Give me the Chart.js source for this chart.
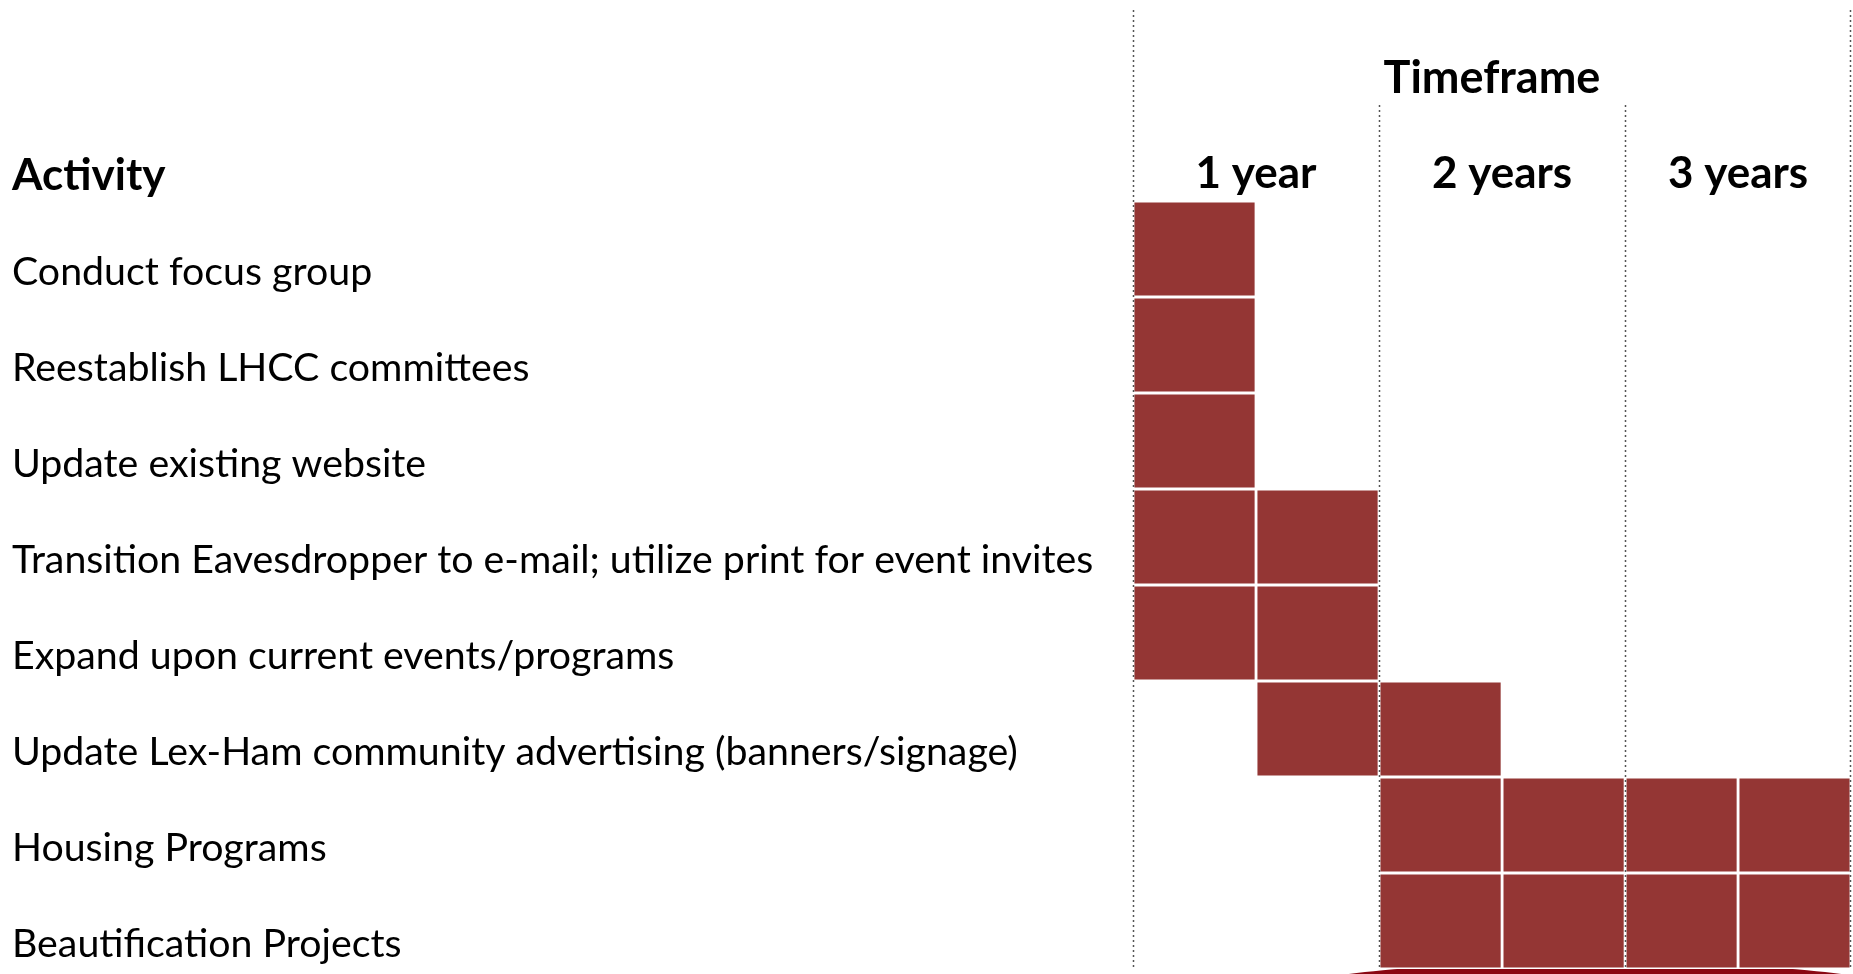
<!DOCTYPE html>
<html>
<head>
<meta charset="utf-8">
<script src="https://cdn.jsdelivr.net/npm/chart.js@4/dist/chart.umd.min.js"></script>
<style>
  html, body { margin: 0; padding: 0; background: #ffffff; }
  canvas { display: block; }
</style>
</head>
<body>
<canvas id="c" width="1853" height="974"></canvas>
<script>
// ---- data ----
const activities = [
  "Conduct focus group",
  "Reestablish LHCC committees",
  "Update existing website",
  "Transition Eavesdropper to e-mail; utilize print for event invites",
  "Expand upon current events/programs",
  "Update Lex-Ham community advertising (banners/signage)",
  "Housing Programs",
  "Beautification Projects"
];
// timeframe in half-year units (0 = start, 6 = end of year 3)
const startHalf = [0, 0, 0, 0, 0, 1, 2, 2];
const endHalf   = [1, 1, 1, 2, 2, 3, 6, 6];
const yearLabels = ["1 year", "2 years", "3 years"];
const yearCenters = [1, 3, 5];
const yearBounds = [0, 2, 4, 6];
const headerActivity = "Activity";
const headerTimeframe = "Timeframe";

// ---- a linear scale whose year columns can have different drawn widths (table layout) ----
class ColumnScale extends Chart.LinearScale {
  _dec(v) {
    const w = this.options.columnWeights, span = this.options.columnSpan;
    const total = w.reduce((a, b) => a + b, 0);
    let k = Math.min(Math.floor((v - this.min) / span), w.length - 1);
    k = Math.max(k, 0);
    let cum = 0;
    for (let i = 0; i < k; i++) cum += w[i];
    cum += ((v - this.min - k * span) / span) * w[k];
    return cum / total;
  }
  getPixelForValue(v) {
    if (v === null || v === undefined) return NaN;
    return this.getPixelForDecimal(this._dec(v));
  }
  getValueForPixel(px) {
    const d = this.getDecimalForPixel(px);
    const w = this.options.columnWeights, span = this.options.columnSpan;
    const total = w.reduce((a, b) => a + b, 0);
    let acc = 0;
    for (let i = 0; i < w.length; i++) {
      const f = w[i] / total;
      if (d <= acc + f || i === w.length - 1) return this.min + i * span + ((d - acc) / f) * span;
      acc += f;
    }
    return this.max;
  }
}
ColumnScale.id = "column";
ColumnScale.defaults = { columnWeights: [1], columnSpan: 1 };
Chart.register(ColumnScale);

// ---- build one dataset per half-year cell ----
const BAR = "#943634";
const datasets = [];
for (let h = 0; h < 6; h++) {
  datasets.push({
    data: activities.map((_, i) => (startHalf[i] <= h && h < endHalf[i]) ? [h, h + 1] : null),
    backgroundColor: BAR,
    borderColor: "#ffffff",
    borderWidth: 1.75,
    borderSkipped: false,
    grouped: false,
    barPercentage: 1,
    categoryPercentage: 1
  });
}

const FONT = "Lato";

const decor = {
  id: "decor",
  beforeDatasetsDraw(chart) {
    const ctx = chart.ctx;
    ctx.save();
    ctx.fillStyle = "#8a0712";
    ctx.beginPath();
    ctx.ellipse(1595, 990, 300, 28, 0, 0, Math.PI * 2);
    ctx.fill();
    ctx.restore();
  },
  afterDatasetsDraw(chart) {
    const ctx = chart.ctx;
    const x = chart.scales.x;
    const area = chart.chartArea;
    ctx.save();
    ctx.strokeStyle = "#555555";
    ctx.lineWidth = 1.5;
    ctx.setLineDash([2, 3]);
    yearBounds.forEach((v, k) => {
      const px = Math.round(x.getPixelForValue(v)) + (k === yearBounds.length - 1 ? -1 : 0);
      const top = (k === 0 || k === yearBounds.length - 1) ? 10 : 105;
      ctx.beginPath();
      ctx.moveTo(px + 0.5, top);
      ctx.lineTo(px + 0.5, area.bottom);
      ctx.stroke();
    });
    ctx.setLineDash([]);
    ctx.fillStyle = "#000";
    ctx.font = "bold 44px " + FONT;
    ctx.textAlign = "left";
    ctx.textBaseline = "alphabetic";
    ctx.fillText(headerActivity, 12, 190);
    ctx.restore();
  }
};

new Chart(document.getElementById("c"), {
  type: "bar",
  data: { labels: activities, datasets },
  plugins: [decor],
  options: {
    indexAxis: "y",
    responsive: false,
    devicePixelRatio: 1,
    animation: false,
    layout: { padding: { left: 12, right: 2, top: 0, bottom: 5 } },
    plugins: { legend: { display: false }, tooltip: { enabled: false }, title: { display: false } },
    scales: {
      x: {
        type: "column",
        position: "top",
        min: 0,
        max: 6,
        columnSpan: 2,
        columnWeights: [1, 1, 0.918],
        afterFit(scale) { scale.height = 201; scale.paddingLeft = 0; scale.paddingRight = 0; },
        afterBuildTicks(scale) { scale.ticks = yearCenters.map(v => ({ value: v })); },
        grid: { display: false, drawTicks: false },
        border: { display: false },
        ticks: {
          autoSkip: false,
          maxRotation: 0,
          padding: 1,
          color: "#000",
          font: { family: FONT, size: 44, weight: "bold" },
          callback(v) { const k = yearCenters.indexOf(v); return k >= 0 ? yearLabels[k] : ""; }
        },
        title: {
          display: true,
          text: headerTimeframe,
          color: "#000",
          font: { family: FONT, size: 45, weight: "bold" },
          padding: { top: 51, bottom: 0 }
        }
      },
      y: {
        type: "category",
        position: "left",
        afterFit(scale) { scale.width = 1121; scale.paddingTop = 0; scale.paddingBottom = 0; },
        grid: { display: false, drawTicks: false },
        border: { display: false },
        ticks: {
          crossAlign: "far",
          labelOffset: 23,
          padding: 0,
          color: "#000",
          font: { family: FONT, size: 39.3 }
        }
      }
    }
  }
});
</script>
</body>
</html>
